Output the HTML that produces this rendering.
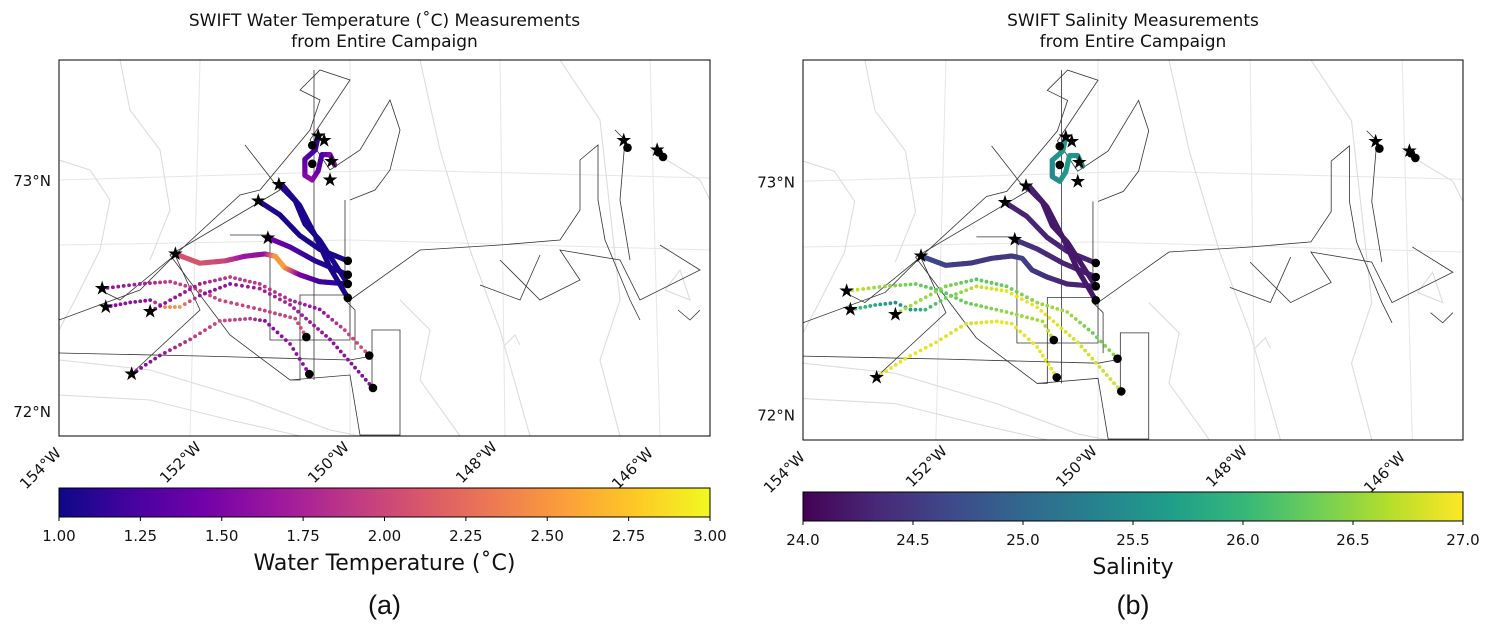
<!DOCTYPE html>
<html><head><meta charset="utf-8">
<style>
html,body{margin:0;padding:0;background:#fff;}
svg{display:block;font-family:"DejaVu Sans","Liberation Sans",sans-serif;}
</style></head>
<body>
<svg id="fig" width="1494" height="636" viewBox="0 0 1494 636"></svg>
<script>
// ---- data (lon, lat, value per vertex) ----
const trackNames = ['track-orange','track-b','track-c','track-d1','track-d2','track-loop','track-e','track-f','track-g','track-h'];
const trackSolid = [true,true,true,true,true,true,false,false,false,false];
const trackLon = [
 [-152.36,-152.03,-151.69,-151.42,-151.15,-151.01,-150.88,-150.68,-150.41,-150.03],
 [-151.11,-150.81,-150.47,-150.03],
 [-151.24,-150.95,-150.68,-150.41,-150.03],
 [-150.96,-150.74,-150.61,-150.41,-150.03],
 [-150.92,-150.68,-150.47,-150.27,-150.03],
 [-150.43,-150.47,-150.61,-150.61,-150.51,-150.43,-150.38,-150.27,-150.20],
 [-153.35,-152.84,-152.43,-152.09,-151.76,-151.22,-150.74,-150.59],
 [-153.30,-152.97,-152.70,-152.50,-152.30,-152.03,-151.62,-151.22,-150.81,-150.27,-149.69],
 [-152.70,-152.43,-152.03,-151.62,-151.22,-150.81,-150.41,-150.07,-149.74],
 [-152.95,-152.57,-152.16,-151.76,-151.35,-151.15,-150.81,-150.55]
];
const trackLat = [
 [72.68,72.64,72.65,72.67,72.68,72.67,72.62,72.59,72.56,72.55],
 [72.75,72.71,72.65,72.59],
 [72.91,72.85,72.76,72.70,72.65],
 [72.98,72.91,72.81,72.74,72.55],
 [72.98,72.89,72.76,72.62,72.49],
 [73.19,73.13,73.09,73.02,73.00,73.04,73.11,73.11,73.06],
 [72.53,72.55,72.56,72.53,72.48,72.44,72.40,72.32],
 [72.45,72.47,72.48,72.45,72.45,72.50,72.55,72.53,72.46,72.31,72.10],
 [72.43,72.48,72.55,72.58,72.55,72.48,72.44,72.35,72.24],
 [72.16,72.24,72.31,72.39,72.40,72.39,72.29,72.16]
];
const trackTemp = [
 [2.05,2.1,2.0,1.65,1.6,2.5,2.55,1.5,1.2,1.1],
 [1.5,1.3,1.1,1.05],
 [1.1,1.05,1.05,1.05,1.05],
 [1.1,1.05,1.05,1.05,1.05],
 [1.1,1.05,1.05,1.05,1.05],
 [1.1,1.2,1.3,1.5,1.6,1.4,1.2,1.5,1.6],
 [1.6,1.7,1.9,2.0,2.0,1.95,2.0,2.1],
 [1.55,1.6,1.6,2.4,2.5,1.6,1.6,1.7,1.75,1.6,1.55],
 [1.6,1.6,1.7,1.9,1.9,1.8,1.6,1.95,2.1],
 [1.55,1.6,1.9,2.0,1.9,1.55,1.6,1.55]
];
const trackSal = [
 [24.7,24.6,24.5,24.5,24.5,24.6,24.5,24.4,24.3,24.3],
 [24.5,24.4,24.3,24.3],
 [24.3,24.3,24.3,24.3,24.3],
 [24.3,24.2,24.2,24.2,24.2],
 [24.3,24.2,24.2,24.2,24.2],
 [25.7,25.6,25.5,25.4,25.5,25.6,25.6,25.5,25.5],
 [26.8,26.5,26.3,26.2,26.3,26.5,26.6,26.8],
 [26.2,25.8,25.5,25.6,26.0,26.3,26.7,26.9,26.9,26.8,26.8],
 [26.6,26.6,26.4,26.2,26.3,26.5,26.6,26.3,26.5],
 [26.9,26.9,26.9,26.8,26.9,26.9,26.9,26.9]
];
const endDotLon = [-150.03,-150.03,-150.03,-150.03,-150.59,-149.74,-150.55,-149.69,-150.51,-150.51,-146.25,-145.83,-145.77];
const endDotLat = [72.65,72.59,72.55,72.49,72.32,72.24,72.16,72.10,73.15,73.07,73.14,73.12,73.10];
const starLon = [-153.35,-153.30,-152.70,-152.95,-152.36,-151.11,-151.24,-150.96,-150.43,-150.35,-150.25,-150.27,-146.30,-145.85];
const starLat = [72.53,72.45,72.43,72.16,72.68,72.75,72.91,72.98,73.19,73.17,73.08,73.00,73.17,73.13];
const tempTicks = ['1.00','1.25','1.50','1.75','2.00','2.25','2.50','2.75','3.00'];
const salTicks = ['24.0','24.5','25.0','25.5','26.0','26.5','27.0'];
const lonTicks = [-154,-152,-150,-148,-146];
const latTicks = [72,73];

const plasma=['#0d0887','#46039f','#7201a8','#9c179e','#bd3786','#d8576b','#ed7953','#fb9f3a','#fdca26','#f0f921'];
const viridis=['#440154','#482878','#3e4989','#31688e','#26828e','#1f9e89','#35b779','#6ece58','#b5de2b','#fde725'];
function hex(h){return [1,3,5].map(i=>parseInt(h.substr(i,2),16));}
function cmap(stops,t){t=Math.max(0,Math.min(1,t));const p=t*(stops.length-1);const i=Math.min(Math.floor(p),stops.length-2);const f=p-i;const a=hex(stops[i]),b=hex(stops[i+1]);return 'rgb('+a.map((v,k)=>Math.round(v+(b[k]-v)*f)).join(',')+')';}

const NS='http://www.w3.org/2000/svg';
const svg=document.getElementById('fig');
function el(tag,attrs,parent){const e=document.createElementNS(NS,tag);for(const k in attrs)e.setAttribute(k,attrs[k]);(parent||svg).appendChild(e);return e;}

function pxA(lon){return 350+(lon+150)*74;}
function pyA(lat){return 180-(lat-73)*231;}

const panels=[
 {name:'temperature',x0:59,y0:60,w:651,h:376,vals:trackTemp,vmin:1,vmax:3,stops:plasma,ticks:tempTicks,cbY:488,label:'Water Temperature (˚C)',tag:'(a)',
  title:['SWIFT Water Temperature (˚C) Measurements','from Entire Campaign']},
 {name:'salinity',x0:803,y0:60,w:660,h:380,vals:trackSal,vmin:24,vmax:27,stops:viridis,ticks:salTicks,cbY:492,label:'Salinity',tag:'(b)',
  title:['SWIFT Salinity Measurements','from Entire Campaign']}
];

const grayContours=[
 [[59,160],[90,170],[110,200],[100,250],[75,300],[59,330]],
 [[120,60],[130,110],[160,150],[170,210],[150,260]],
 [[59,360],[150,370],[250,400],[330,430],[360,436]],
 [[59,395],[150,400],[230,420],[300,436]],
 [[420,60],[440,150],[470,250],[500,330],[530,436]],
 [[560,60],[600,120],[620,300],[600,360],[620,436]],
 [[650,150],[700,180],[710,200]],[[400,300],[430,330],[420,380],[460,436]],
 [[505,345],[515,335],[520,345]],[[665,290],[680,270],[690,300],[665,290]]
];
const grid=[[[59,245],[350,240],[710,250]],[[59,180],[400,170],[710,178]],[[200,60],[190,436]],[[350,60],[350,436]],[[500,60],[505,436]],[[650,60],[660,436]]];
const blackLines=[
 [[59,320],[140,290],[175,255],[240,195],[260,190],[310,130],[320,100],[300,90],[320,70],[350,80],[330,110],[310,140],[330,170],[360,150],[390,100],[400,130],[390,170],[375,190],[350,200]],
 [[100,290],[120,300],[175,255],[200,310],[130,375]],
 [[245,145],[280,190],[170,255],[230,335],[290,380],[350,375],[360,435],[400,435],[400,330],[372,330],[372,390]],
 [[230,235],[270,235],[270,340],[350,340],[350,295],[300,295],[300,380],[290,380]],
 [[314,70],[314,380]],[[345,200],[345,300],[355,310],[355,350]],
 [[59,353],[200,356],[350,360],[372,356]],
 [[350,300],[420,250],[500,245],[560,240],[580,210],[580,160],[598,145],[598,200],[605,240],[630,300],[640,320]],
 [[500,260],[540,300],[580,280],[560,250],[620,260],[640,300],[700,270],[660,245]],
 [[480,285],[520,300],[540,255]],
 [[615,130],[625,140],[620,200],[630,260]],[[678,310],[690,320],[700,310]]
];

function addPanel(P,idx){
 const sx=P.w/651, sy=P.h/376;
 const X=x=>P.x0+(x-59)*sx, Y=y=>P.y0+(y-60)*sy;
 const px=lon=>X(pxA(lon)), py=lat=>Y(pyA(lat));
 const g=el('g',{});
 
 
 P.title.forEach((t,i)=>{const tx=el('text',{x:P.x0+P.w/2,y:26+i*21,'text-anchor':'middle','font-size':'17',fill:'#111'},g);tx.textContent=t;
  });
 const clipId='clip'+idx;
 const cp=el('clipPath',{id:clipId},g);el('rect',{x:P.x0,y:P.y0,width:P.w,height:P.h},cp);
 const map=el('g',{'clip-path':'url(#'+clipId+')'},g);
 
 const pl=(pts,stroke,w)=>el('polyline',{points:pts.map(p=>X(p[0])+','+Y(p[1])).join(' '),fill:'none',stroke:stroke,'stroke-width':w},map);
 grid.forEach(l=>pl(l,'#e6e6e6',1));
 grayContours.forEach(l=>pl(l,'#dcdcdc',1.1));
 blackLines.forEach(l=>pl(l,'#333',0.8));
 for(let t=0;t<trackLon.length;t++){
  const tg=el('g',{},map);
  
  
  const lo=trackLon[t],la=trackLat[t],v=P.vals[t];
  const step=trackSolid[t]?1.2:5.5, r=trackSolid[t]?2.6:1.9;
  for(let i=0;i<lo.length-1;i++){
   const x1=px(lo[i]),y1=py(la[i]),x2=px(lo[i+1]),y2=py(la[i+1]);
   const L=Math.hypot(x2-x1,y2-y1),n=Math.max(1,Math.round(L/step));
   for(let k=0;k<n;k++){const f=k/n;const val=v[i]+(v[i+1]-v[i])*f;
    el('circle',{cx:x1+(x2-x1)*f,cy:y1+(y2-y1)*f,r:r,fill:cmap(P.stops,(val-P.vmin)/(P.vmax-P.vmin))},tg);}
  }
 }
 for(let i=0;i<endDotLon.length;i++){const c=el('circle',{cx:px(endDotLon[i]),cy:py(endDotLat[i]),r:4.3,fill:'#000'},map);
  }
 for(let i=0;i<starLon.length;i++){const s=el('text',{x:px(starLon[i]),y:py(starLat[i])+6,'text-anchor':'middle','font-size':'19',fill:'#000'},map);s.textContent='★';
  }
 const fr=el('rect',{x:P.x0,y:P.y0,width:P.w,height:P.h,fill:'none',stroke:'#000','stroke-width':1},g);
 
 latTicks.forEach(lat=>{const tx=el('text',{x:P.x0-8,y:py(lat)+6,'text-anchor':'end','font-size':'15',fill:'#111'},g);tx.textContent=lat+'°N';
  });
 lonTicks.forEach(lon=>{const bx=px(lon)-(lon===-154?-8:(lon===-146?-8:0)), by=P.y0+P.h+12+(lon===-154||lon===-146?6:0);
  const tx=el('text',{x:bx,y:by,'text-anchor':'end','font-size':'15',fill:'#111',transform:'rotate(-45 '+bx+' '+by+')'},g);tx.textContent=(-lon)+'°W';
  });
 const gid='grad'+idx;const lg=el('linearGradient',{id:gid,x1:0,x2:1,y1:0,y2:0},g);
 P.stops.forEach((c,i)=>el('stop',{offset:(i/(P.stops.length-1)),'stop-color':c},lg));
 const cb=el('rect',{x:P.x0,y:P.cbY,width:P.w,height:29,fill:'url(#'+gid+')',stroke:'#000','stroke-width':1},g);
 
 P.ticks.forEach((t,i)=>{const x=P.x0+P.w*i/(P.ticks.length-1);
  el('line',{x1:x,x2:x,y1:P.cbY+29,y2:P.cbY+33,stroke:'#000'},g);
  const tx=el('text',{x:x,y:P.cbY+53,'text-anchor':'middle','font-size':'15',fill:'#111'},g);tx.textContent=t;
  });
 const lb=el('text',{x:P.x0+P.w/2,y:P.cbY+82,'text-anchor':'middle','font-size':'22',fill:'#111'},g);lb.textContent=P.label;
 
 const tg=el('text',{x:P.x0+P.w/2,y:614,'text-anchor':'middle','font-size':'27','font-family':'Liberation Sans, sans-serif',fill:'#111'},g);tg.textContent=P.tag;
 
}
panels.forEach(addPanel);
</script>
</body></html>
